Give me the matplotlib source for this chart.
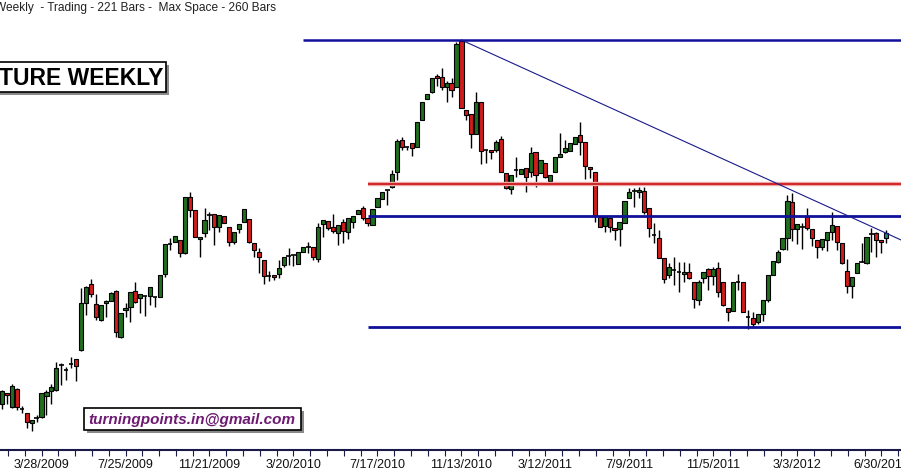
import matplotlib
matplotlib.use("Agg")
import matplotlib.pyplot as plt
import matplotlib.transforms as mtransforms
from matplotlib.patches import Rectangle
import numpy as np

# weekly candles (arbitrary price units)
opens = [96, 107, 93, 111, 91, 87, 77, 82, 83, 104,
         109, 110, 135, 130, 136, 141, 150, 197, 216, 196,
         180, 197, 199, 209, 163, 190, 193, 209, 202, 204,
         204, 203, 203, 226, 256, 258, 260, 247, 303, 290,
         261, 267, 285, 286, 273, 284, 273, 258, 271, 278,
         281, 257, 248, 240, 224, 225, 226, 235, 244, 245,
         236, 248, 253, 253, 241, 276, 279, 273, 267, 278,
         268, 278, 286, 292, 282, 275, 293, 301, 310, 313,
         328, 360, 353, 357, 353, 380, 401, 408, 424, 423,
         413, 417, 413, 459, 390, 386, 366, 398, 350, 350,
         350, 361, 327, 311, 330, 326, 332, 328, 348, 327,
         337, 319, 328, 343, 348, 349, 356, 365, 358, 333,
         328, 283, 274, 282, 272, 271, 277, 302, 309, 308,
         309, 292, 265, 262, 242, 225, 230, 228, 226, 228,
         218, 200, 222, 231, 224, 232, 218, 192, 189, 218,
         218, 183, 182, 178, 186, 200, 225, 238, 251, 262,
         298, 271, 273, 283, 271, 260, 253, 260, 268, 274,
         257, 229, 214, 227, 238, 237, 266, 267, 260, 262]
highs = [110, 107, 116, 112, 94, 87, 80, 85, 107, 110,
         116, 138, 137, 133, 143, 141, 212, 214, 221, 206,
         195, 200, 208, 210, 187, 197, 208, 218, 206, 204,
         213, 203, 225, 256, 262, 264, 260, 303, 308, 290,
         263, 292, 288, 286, 285, 284, 273, 268, 276, 291,
         281, 257, 252, 240, 229, 225, 240, 243, 252, 245,
         248, 253, 258, 253, 277, 280, 279, 286, 275, 281,
         282, 284, 290, 294, 282, 291, 302, 308, 310, 330,
         361, 363, 353, 357, 378, 398, 406, 422, 426, 432,
         419, 422, 458, 460, 390, 386, 408, 398, 350, 350,
         360, 364, 327, 325, 343, 331, 332, 353, 348, 340,
         337, 325, 343, 367, 360, 357, 363, 378, 358, 333,
         328, 283, 283, 282, 272, 278, 299, 312, 312, 313,
         313, 292, 277, 270, 242, 237, 243, 238, 238, 237,
         218, 220, 228, 232, 233, 238, 218, 192, 218, 226,
         218, 190, 188, 186, 200, 225, 239, 250, 262, 305,
         307, 276, 277, 292, 271, 260, 261, 268, 288, 274,
         257, 241, 223, 237, 257, 263, 272, 268, 260, 270]
lows = [91, 96, 92, 90, 87, 72, 69, 78, 82, 85,
        96, 109, 115, 120, 132, 119, 149, 185, 203, 180,
        179, 183, 199, 163, 162, 183, 178, 197, 187, 184,
        195, 193, 203, 223, 250, 258, 243, 246, 283, 263,
        243, 263, 270, 255, 268, 277, 254, 256, 267, 278,
        257, 243, 227, 216, 219, 220, 222, 233, 235, 234,
        236, 248, 247, 240, 238, 263, 270, 267, 255, 257,
        261, 272, 286, 280, 274, 275, 293, 301, 295, 312,
        320, 350, 350, 344, 353, 380, 401, 407, 414, 410,
        398, 403, 413, 392, 380, 352, 366, 336, 337, 341,
        348, 328, 311, 306, 323, 326, 308, 323, 313, 327,
        322, 315, 328, 343, 347, 349, 356, 345, 321, 322,
        278, 273, 268, 268, 260, 254, 277, 302, 293, 302,
        286, 263, 257, 242, 217, 222, 215, 208, 218, 221,
        192, 195, 217, 210, 215, 203, 194, 179, 189, 210,
        188, 171, 172, 176, 179, 198, 225, 237, 250, 250,
        259, 256, 251, 270, 254, 242, 250, 249, 260, 250,
        236, 207, 202, 227, 238, 236, 248, 243, 247, 257]
closes = [109, 105, 114, 93, 91, 78, 80, 82, 107, 108,
          113, 132, 135, 130, 136, 134, 197, 213, 206, 183,
          195, 199, 207, 168, 187, 192, 208, 198, 206, 204,
          213, 203, 225, 256, 256, 264, 247, 303, 290, 263,
          263, 280, 285, 273, 285, 277, 258, 268, 276, 291,
          258, 250, 243, 224, 224, 223, 232, 243, 244, 245,
          248, 253, 253, 243, 273, 280, 272, 269, 275, 269,
          282, 284, 290, 282, 277, 291, 302, 308, 310, 326,
          359, 353, 353, 352, 378, 398, 406, 422, 422, 413,
          417, 410, 456, 392, 385, 366, 398, 349, 350, 348,
          358, 328, 312, 325, 330, 331, 323, 347, 325, 340,
          323, 325, 343, 346, 352, 357, 363, 358, 334, 331,
          284, 273, 283, 273, 270, 278, 299, 308, 309, 310,
          288, 272, 265, 242, 221, 233, 230, 228, 228, 222,
          201, 218, 228, 224, 231, 208, 195, 188, 218, 218,
          188, 183, 176, 186, 200, 225, 239, 248, 262, 299,
          271, 276, 273, 272, 262, 253, 261, 268, 275, 258,
          237, 214, 223, 237, 238, 263, 266, 260, 258, 267]

tick_bars = [8, 25, 42, 59, 76, 93, 110, 127, 144, 161, 178]
tick_labels = ["3/28/2009", "7/25/2009", "11/21/2009", "3/20/2010", "7/17/2010",
               "11/13/2010", "3/12/2011", "7/9/2011", "11/5/2011", "3/3/2012", "6/30/2012"]

# drawn levels
top_level, top_start = 460, 61
red_level = 316
mid_level = 284
support_level = 173
levels_start = 74
trend_x = [93, 182]
trend_y = [460, 260]

plt.rcParams['font.family'] = ['Liberation Sans', 'DejaVu Sans']

fig = plt.figure(figsize=(9.01, 4.73), dpi=100)
ax = fig.add_axes([0, 23 / 473, 1, 450 / 473])
ax.set_xlim(-0.405, 181.98)
ax.set_ylim(50, 500)

x = np.arange(len(opens))
o = np.array(opens)
c = np.array(closes)

# wicks
ax.vlines(x, lows, highs, color='black', lw=1, zorder=2)

# bodies
cols = []
for i in range(len(o)):
    if i == len(o) - 1:
        cols.append('#2e7d86')
    elif c[i] > o[i]:
        cols.append('#1f6f1f')
    else:
        cols.append('#d01c1c')
bottoms = np.minimum(o, c)
heights = np.abs(c - o)
body = heights > 0
ax.bar(x[body], heights[body], bottom=bottoms[body], width=0.84,
       color=[cols[i] for i in x[body]], edgecolor='black', lw=0.8, zorder=3)
doji = ~body
ax.hlines(o[doji], x[doji] - 0.45, x[doji] + 0.45, color='black', lw=1.2, zorder=3)

# support / resistance lines
ax.hlines(top_level, top_start, 182, color='#10109a', lw=1.8, zorder=4)
ax.hlines(red_level, levels_start, 182, color='#f0b0b0', lw=3.2, zorder=4)
ax.hlines(red_level, levels_start, 182, color='#d02828', lw=1.5, zorder=4)
ax.hlines(mid_level, levels_start, 182, color='#10109a', lw=2.0, zorder=4)
ax.hlines(support_level, levels_start, 182, color='#10109a', lw=2.0, zorder=4)
ax.plot(trend_x, trend_y, color='#1a1a8a', lw=0.8, zorder=4)

# axis styling
for s in ['left', 'right', 'top']:
    ax.spines[s].set_visible(False)
ax.spines['bottom'].set_color('#1a1a4a')
ax.spines['bottom'].set_linewidth(1.5)
ax.set_yticks([])
ax.set_xticks(tick_bars)
ax.set_xticklabels(tick_labels)
ax.set_xticks(np.arange(tick_bars[0] - 3.4 * 2, 182, 3.4), minor=True)
ax.tick_params(axis='x', which='both', direction='out', length=4, width=0.8,
               color='#1a1a4a', labelsize=9, pad=2.5, labelcolor='#111111')

# pixel coords, origin top-left
px = mtransforms.Affine2D().scale(1, -1).translate(0, 473)

fig.text(276, 8, "Weekly  - Trading - 221 Bars -  Max Space - 260 Bars",
         transform=px, ha='right', va='center', fontsize=8.6, color='#222222')

# title box (cut at left edge)
fig.patches.append(Rectangle((-5 + 3, 62 + 3), 171, 30, transform=px,
                             facecolor='#8a8a8a', edgecolor='none'))
fig.patches.append(Rectangle((-5, 62), 171, 30, transform=px,
                             facecolor='white', edgecolor='black', lw=1.2))
fig.text(163, 78, "TURE WEEKLY", transform=px, ha='right', va='center',
         fontsize=16.5, fontweight='heavy', color='black')

# email box
fig.patches.append(Rectangle((84 + 3, 408 + 3), 217, 22, transform=px,
                             facecolor='#8a8a8a', edgecolor='none'))
fig.patches.append(Rectangle((84, 408), 217, 22, transform=px,
                             facecolor='white', edgecolor='black', lw=1.2))
fig.text(192, 419.5, "turningpoints.in@gmail.com", transform=px, ha='center',
         va='center', fontsize=11, fontweight='bold', fontstyle='italic', color='#6e1a72')

fig.savefig("out.png", dpi=100)
